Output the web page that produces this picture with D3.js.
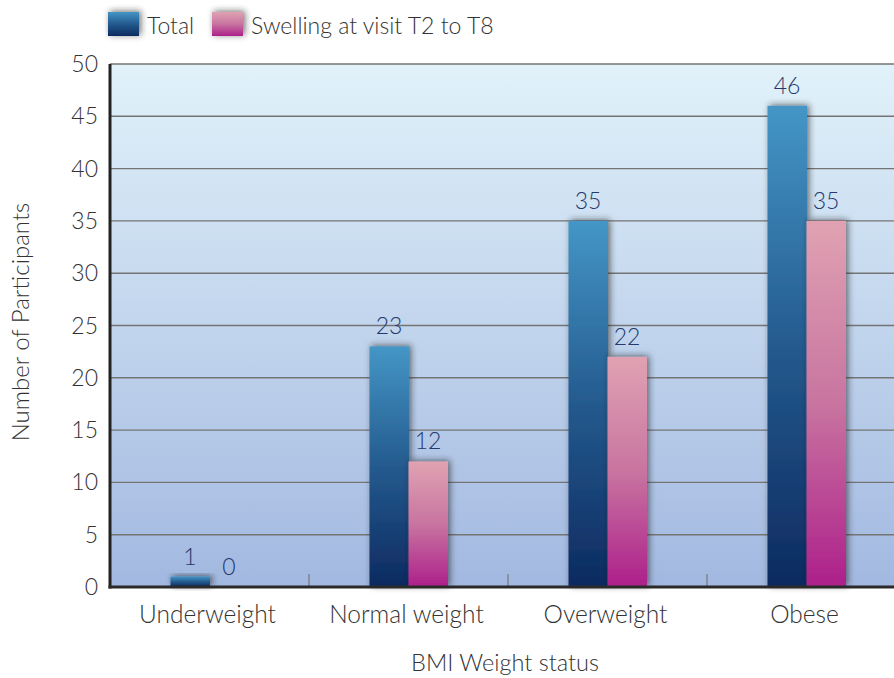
<!DOCTYPE html>
<html><head><meta charset="utf-8">
<script src="https://cdn.jsdelivr.net/npm/d3@7"></script>
<style>
html,body{margin:0;padding:0;background:#fff;}
svg text{font-family:Lato,"Open Sans",sans-serif;font-weight:300;}
</style></head>
<body>
<svg id="chart" width="894" height="678"></svg>
<script>
const categories = ["Underweight", "Normal weight", "Overweight", "Obese"];
const seriesNames = ["Total", "Swelling at visit T2 to T8"];
const totalValues = [1, 23, 35, 46];
const swellingValues = [0, 12, 22, 35];
const yTicks = [0, 5, 10, 15, 20, 25, 30, 35, 40, 45, 50];

const svg = d3.select("#chart");
const mLeft = 110, mRight = 906, mTop = 64, mBottom = 587;

const defs = svg.append("defs");
const g1 = defs.append("linearGradient").attr("id","gBlue").attr("x1",0).attr("y1",0).attr("x2",0).attr("y2",1);
g1.append("stop").attr("offset","0%").attr("stop-color","#4496c6");
g1.append("stop").attr("offset","50%").attr("stop-color","#245a8e");
g1.append("stop").attr("offset","100%").attr("stop-color","#0d2a60");
const g2 = defs.append("linearGradient").attr("id","gPink").attr("x1",0).attr("y1",0).attr("x2",0).attr("y2",1);
g2.append("stop").attr("offset","0%").attr("stop-color","#e0a2b2");
g2.append("stop").attr("offset","50%").attr("stop-color","#c874a0");
g2.append("stop").attr("offset","100%").attr("stop-color","#ad1f8b");
const gb = defs.append("linearGradient").attr("id","gBg").attr("x1",0).attr("y1",0).attr("x2",0).attr("y2",1);
gb.append("stop").attr("offset","0%").attr("stop-color","#e1f2fa");
gb.append("stop").attr("offset","100%").attr("stop-color","#a2b8e0");
const f = defs.append("filter").attr("id","shadow").attr("x","-30%").attr("y","-30%").attr("width","160%").attr("height","160%");
f.append("feDropShadow").attr("dx",2).attr("dy",-1).attr("stdDeviation",3).attr("flood-color","#222").attr("flood-opacity",0.65);

const x0 = d3.scaleBand().domain(categories).range([mLeft, mRight]).paddingInner(0.608).paddingOuter(0.304);
const x1 = d3.scaleBand().domain(seriesNames).range([0, x0.bandwidth()]);
const y = d3.scaleLinear().domain([0, 50]).range([mBottom, mTop]);

// background
svg.append("rect").attr("x", mLeft).attr("y", mTop).attr("width", mRight-mLeft).attr("height", mBottom-mTop).attr("fill","url(#gBg)");

// grid
svg.append("g").selectAll("line").data(yTicks.filter(d=>d>0)).join("line")
  .attr("x1", mLeft).attr("x2", mRight).attr("y1", d=>y(d)).attr("y2", d=>y(d))
  .attr("stroke","#747474").attr("stroke-width",1.4);

// category separators
const step = x0.step();
svg.append("g").selectAll("line").data(categories.slice(1)).join("line")
  .attr("x1", d=>x0(d) - step*0.304).attr("x2", d=>x0(d) - step*0.304)
  .attr("y1", mBottom).attr("y2", mBottom-13).attr("stroke","#777").attr("stroke-width",1.2);

// bars
const rows = categories.map((c,i)=>({cat:c, vals:[
  {s:seriesNames[0], v:totalValues[i], fill:"url(#gBlue)"},
  {s:seriesNames[1], v:swellingValues[i], fill:"url(#gPink)"}]}));

const groups = svg.append("g").selectAll("g").data(rows).join("g")
  .attr("transform", d=>`translate(${x0(d.cat)},0)`);
groups.selectAll("rect").data(d=>d.vals.filter(v=>v.v>0)).join("rect")
  .attr("x", d=>x1(d.s)).attr("width", x1.bandwidth()+0.5)
  .attr("y", d=>y(d.v)).attr("height", d=>mBottom - y(d.v))
  .attr("fill", d=>d.fill).attr("filter","url(#shadow)");
groups.selectAll("text").data(d=>d.vals).join("text")
  .attr("x", d=>x1(d.s)+x1.bandwidth()/2).attr("y", d=>y(d.v)-12)
  .attr("text-anchor","middle").attr("font-size",23).attr("fill","#24396c")
  .text(d=>d.v);

// axes lines
svg.append("line").attr("x1",mLeft).attr("x2",mLeft).attr("y1",mTop).attr("y2",mBottom+1.5).attr("stroke","#222").attr("stroke-width",3);
svg.append("line").attr("x1",mLeft-1.5).attr("x2",mRight).attr("y1",mBottom).attr("y2",mBottom).attr("stroke","#2a2a2a").attr("stroke-width",3);

// y tick labels
svg.append("g").selectAll("text").data(yTicks).join("text")
  .attr("x", 98).attr("y", d=>y(d)+8).attr("text-anchor","end")
  .attr("font-size",23).attr("fill","#333").text(d=>d);

// category labels
svg.append("g").selectAll("text").data(categories).join("text")
  .attr("x", d=>x0(d)+x0.bandwidth()/2 - 2).attr("y", 623).attr("text-anchor","middle")
  .attr("font-size",24.5).attr("fill","#333").text(d=>d);

// axis titles
svg.append("text").attr("x",505).attr("y",671).attr("text-anchor","middle").attr("font-size",23.5).attr("fill","#333").text("BMI Weight status");
svg.append("text").attr("transform","translate(29,322) rotate(-90)").attr("text-anchor","middle").attr("font-size",24).attr("fill","#333").text("Number of Participants");

// legend
const leg = svg.append("g");
const legX = [108, 212];
seriesNames.forEach((s,i)=>{
  leg.append("rect").attr("x",legX[i]).attr("y",12).attr("width",31).attr("height",24)
    .attr("fill", i===0?"url(#gBlue)":"url(#gPink)").attr("filter","url(#shadow)");
  leg.append("text").attr("x",legX[i]+39).attr("y",34).attr("font-size",23).attr("fill","#333").text(s);
});
</script>
</body></html>
